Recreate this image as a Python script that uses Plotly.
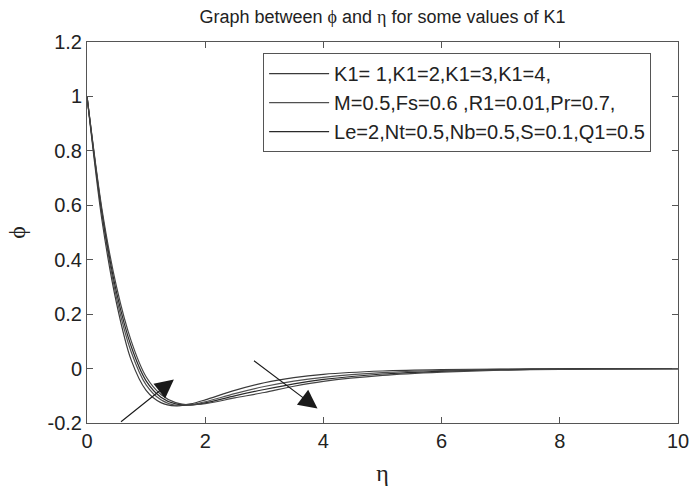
import plotly.graph_objects as go

eta = [0, 0.25, 0.5, 0.75, 1.0, 1.25, 1.5, 1.75, 2.0, 2.5, 3.0, 3.5, 4.0, 5.0, 6.0, 7.0, 8.0, 9.0, 10.0]
phi_k1_1 = [1, 0.55, 0.24, 0.03, -0.08, -0.125, -0.137, -0.13, -0.115, -0.08, -0.052, -0.033, -0.021, -0.009, -0.004, -0.002, -0.001, 0, 0]
phi_k1_2 = [1, 0.57, 0.26, 0.06, -0.06, -0.115, -0.135, -0.133, -0.122, -0.092, -0.066, -0.046, -0.032, -0.015, -0.007, -0.003, -0.001, 0, 0]
phi_k1_3 = [1, 0.58, 0.28, 0.08, -0.045, -0.105, -0.13, -0.134, -0.126, -0.1, -0.077, -0.056, -0.04, -0.02, -0.01, -0.005, -0.002, -0.001, 0]
phi_k1_4 = [1, 0.59, 0.30, 0.10, -0.03, -0.095, -0.125, -0.133, -0.129, -0.108, -0.088, -0.065, -0.047, -0.025, -0.013, -0.006, -0.003, -0.001, 0]

legend_labels = ["K1= 1,K1=2,K1=3,K1=4,",
                 "M=0.5,Fs=0.6 ,R1=0.01,Pr=0.7,",
                 "Le=2,Nt=0.5,Nb=0.5,S=0.1,Q1=0.5",
                 None]
series = [phi_k1_1, phi_k1_2, phi_k1_3, phi_k1_4]
colors = ["#3a3a3a", "#505050", "#2a2a2a", "#444444"]

x_ticks = [0, 2, 4, 6, 8, 10]
y_ticks = [-0.2, 0, 0.2, 0.4, 0.6, 0.8, 1.0, 1.2]
y_ticktext = ["-0.2", "0", "0.2", "0.4", "0.6", "0.8", "1", "1.2"]

# arrows (tail -> head) in data coordinates
arrow1 = dict(tail=(0.55, -0.2), head=(1.47, -0.04))
arrow2 = dict(tail=(2.8, 0.033), head=(3.9, -0.147))

fig = go.Figure()
for ys, lab, c in zip(series, legend_labels, colors):
    fig.add_trace(go.Scatter(
        x=eta, y=ys, mode="lines",
        line=dict(color=c, width=1.2, shape="spline", smoothing=0.8),
        name=lab if lab else "K1=4",
        showlegend=lab is not None,
    ))

for a in [arrow1, arrow2]:
    fig.add_annotation(
        x=a["head"][0], y=a["head"][1], ax=a["tail"][0], ay=a["tail"][1],
        xref="x", yref="y", axref="x", ayref="y",
        showarrow=True, arrowhead=2, arrowsize=3.4, arrowwidth=1.1,
        arrowcolor="#1a1a1a", text="",
    )

axis_common = dict(
    showgrid=False, zeroline=False, showline=True, linecolor="#555555", linewidth=1,
    mirror="ticks", ticks="inside", ticklen=6, tickcolor="#555555", automargin=False,
    tickfont=dict(family="Liberation Sans, Arial, sans-serif", size=20, color="#222222"),
)

fig.update_layout(
    width=690, height=486,
    margin=dict(l=87, r=12, t=42, b=63),
    paper_bgcolor="white", plot_bgcolor="white",
    title=dict(
        text="Graph between <span style='font-family:Liberation Serif'>ϕ</span> and <span style='font-family:Liberation Serif'>η</span> for some values of K1",
        x=(87 + 678) / 2 / 690, xanchor="center", y=1 - 17 / 486, yref="container", yanchor="middle",
        font=dict(family="Liberation Sans, Arial, sans-serif", size=18, color="#222222"),
    ),
    xaxis=dict(range=[0, 10], tickvals=x_ticks, ticktext=[str(v) for v in x_ticks],
               title=dict(text="η", font=dict(family="Liberation Serif, serif", size=24, color="#222222")),
               **axis_common),
    yaxis=dict(range=[-0.2, 1.2], tickvals=y_ticks, ticktext=y_ticktext,
               title=dict(text="ϕ", font=dict(family="Liberation Serif, serif", size=24, color="#222222")),
               **axis_common),
    legend=dict(
        x=0.298, y=0.971, xanchor="left", yanchor="top",
        bordercolor="#555555", borderwidth=1, bgcolor="white",
        font=dict(family="Liberation Sans, Arial, sans-serif", size=20, color="#222222"),
        tracegroupgap=0, itemwidth=60,
    ),
    showlegend=True,
)

fig.write_html("out.html", config={"displayModeBar": False},
               post_script="document.body.style.margin='0';document.body.style.padding='0';")
